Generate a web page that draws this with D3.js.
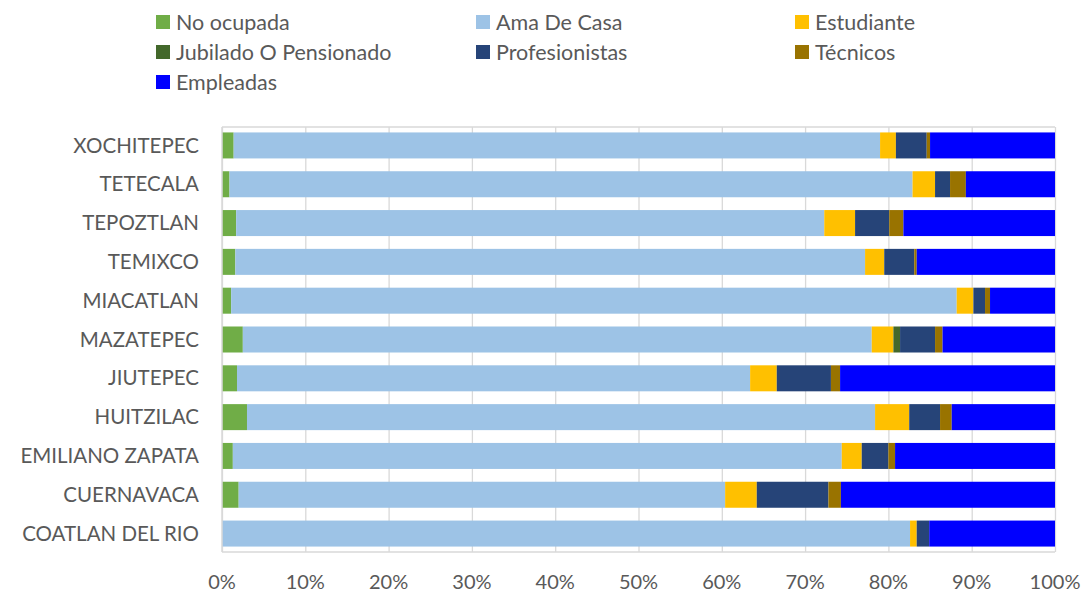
<!DOCTYPE html>
<html>
<head>
<meta charset="utf-8">
<script src="https://cdn.jsdelivr.net/npm/d3@7"></script>
<style>
  body { margin: 0; background: #fff; }
  text { font-family: Lato, "Open Sans", sans-serif; fill: #595959; }
</style>
</head>
<body>
<div class="chart"></div>
<script>
// municipios, top to bottom
const municipios = ['XOCHITEPEC','TETECALA','TEPOZTLAN','TEMIXCO','MIACATLAN','MAZATEPEC',
  'JIUTEPEC','HUITZILAC','EMILIANO ZAPATA','CUERNAVACA','COATLAN DEL RIO']
const series = ['No ocupada','Ama De Casa','Estudiante','Jubilado O Pensionado','Profesionistas','Técnicos','Empleadas']
const colores = ['#70ad47','#9dc3e6','#ffc000','#43682b','#264478','#997300','#0000ff']

// percent shares per series, same order as municipios
const noOcupada  = [1.4, 0.9, 1.7, 1.6, 1.1, 2.5, 1.8, 3.0, 1.3, 2.0, 0]
const amaDeCasa  = [77.6, 82.0, 70.6, 75.6, 87.1, 75.5, 61.6, 75.4, 73.1, 58.4, 82.6]
const estudiante = [1.9, 2.7, 3.7, 2.3, 2.0, 2.6, 3.2, 4.1, 2.4, 3.8, 0.8]
const jubilado   = [0, 0, 0, 0, 0, 0.8, 0, 0, 0, 0, 0]
const profes     = [3.7, 1.8, 4.1, 3.6, 1.4, 4.2, 6.5, 3.7, 3.2, 8.6, 1.5]
const tecnicos   = [0.4, 1.9, 1.7, 0.3, 0.6, 0.9, 1.1, 1.4, 0.8, 1.5, 0]
const empleadas  = [15.0, 10.7, 18.2, 16.6, 7.8, 13.5, 25.8, 12.4, 19.2, 25.7, 15.1]
const ticks = [0, 10, 20, 30, 40, 50, 60, 70, 80, 90, 100]

const valores = [noOcupada, amaDeCasa, estudiante, jubilado, profes, tecnicos, empleadas]

const width = 1084
const height = 594
const margin = {top: 127, right: 29, bottom: 42, left: 222}

const rows = municipios.map((m, i) => {
  let r = {municipio: m}
  series.forEach((s, j) => { r[s] = valores[j][i] })
  return r
})

let svg = d3.select('.chart')
  .append('svg')
  .attr('width', width)
  .attr('height', height)

const x = d3.scaleLinear().domain([0, 100]).range([margin.left, width - margin.right])
const y = d3.scaleBand().domain(municipios)
  .range([margin.top, height - margin.bottom])
  .paddingInner(0.33)
  .paddingOuter(0.14)

// gridlines
svg.append('g')
  .selectAll('line')
  .data(ticks)
  .enter()
  .append('line')
  .attr('x1', d => x(d) + 0.5)
  .attr('x2', d => x(d) + 0.5)
  .attr('y1', margin.top)
  .attr('y2', height - margin.bottom)
  .attr('stroke', '#d9d9d9')
  .attr('stroke-width', 1.3)

// frame top / bottom
;[margin.top, height - margin.bottom].forEach(v => {
  svg.append('line')
    .attr('x1', margin.left).attr('x2', width - margin.right)
    .attr('y1', v).attr('y2', v)
    .attr('stroke', '#d9d9d9').attr('stroke-width', 1.3)
})

const stack = d3.stack().keys(series)(rows)

svg.append('g')
  .selectAll('g')
  .data(stack)
  .enter()
  .append('g')
  .attr('fill', (d, i) => colores[i])
  .selectAll('rect')
  .data(d => d)
  .enter()
  .append('rect')
  .attr('x', d => x(d[0]))
  .attr('y', d => y(d.data.municipio))
  .attr('width', d => Math.max(0, x(d[1]) - x(d[0])))
  .attr('height', y.bandwidth())

// left axis line
svg.append('line')
  .attr('x1', margin.left).attr('x2', margin.left)
  .attr('y1', margin.top).attr('y2', height - margin.bottom)
  .attr('stroke', '#d9d9d9').attr('stroke-width', 1.5)

// category labels
svg.append('g')
  .selectAll('text')
  .data(municipios)
  .enter()
  .append('text')
  .attr('x', margin.left - 23)
  .attr('y', d => y(d) + y.bandwidth() / 2)
  .attr('dy', '0.35em')
  .attr('text-anchor', 'end')
  .style('font-size', '20.5px')
  .text(d => d)

// x tick labels
svg.append('g')
  .selectAll('text')
  .data(ticks)
  .enter()
  .append('text')
  .attr('x', d => x(d))
  .attr('y', 582)
  .attr('dy', '0.35em')
  .attr('text-anchor', 'middle')
  .style('font-size', '20px')
  .text(d => d + '%')

// legend
const legX = [156, 476, 795]
const legY = [22, 52, 82]
let leg = svg.append('g')
  .selectAll('g')
  .data(series)
  .enter()
  .append('g')
  .attr('transform', (d, i) => 'translate(' + legX[i % 3] + ',' + legY[Math.floor(i / 3)] + ')')

leg.append('rect')
  .attr('x', 0)
  .attr('y', -7)
  .attr('width', 14)
  .attr('height', 14)
  .attr('fill', (d, i) => colores[i])

leg.append('text')
  .attr('x', 20)
  .attr('y', 0)
  .attr('dy', '0.35em')
  .style('font-size', '21.5px')
  .text(d => d)
</script>
</body>
</html>
